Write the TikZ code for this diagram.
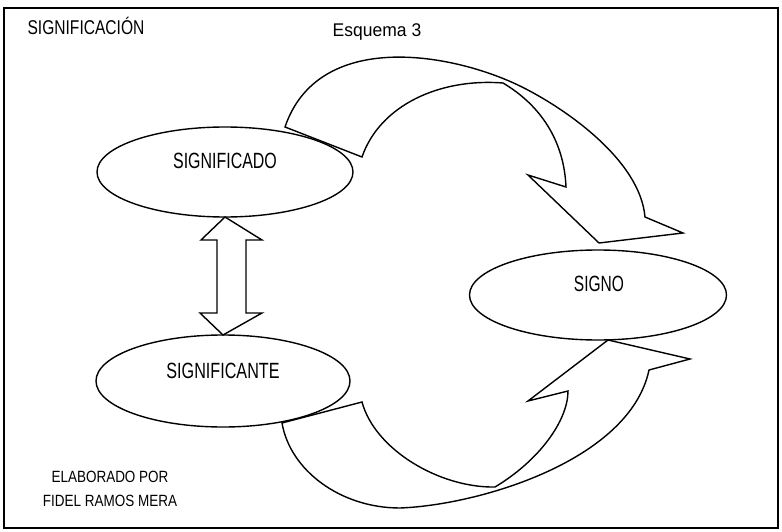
\documentclass[tikz,border=0pt]{standalone}
\usepackage{fontspec}
\setmainfont{Liberation Sans}
\usepackage{graphicx}
\usetikzlibrary{shapes.geometric}
\newcommand{\sq}[3]{\scalebox{#1}[1.05]{\fontsize{#2}{#2}\selectfont #3}}
\begin{document}
\begin{tikzpicture}[x=1pt,y=-1pt,
  shapeline/.style={draw=black,line width=1.4pt,fill=white,line join=miter},
  oval/.style={ellipse,draw=black,line width=1.4pt,fill=white,inner sep=0pt,outer sep=0pt},
  lbl/.style={anchor=base,inner sep=0pt,text=black}]
\useasboundingbox (0,0) rectangle (782,532);
\fill[white] (0,0) rectangle (782,532);
% frame
\draw[line width=2pt] (4,8) rectangle (778,528);
% titles
\node[lbl] (title) at (86,35) {\sq{0.82}{19}{SIGNIFICACIÓN}};
\node[lbl] (esq) at (377,37) {\sq{1.0}{17.5}{Esquema 3}};
% upper curved arrow (SIGNIFICADO -> SIGNO)
\draw[shapeline]
  (285,127) .. controls (318,30) and (450,52) .. (520,86)
  .. controls (565,108) and (640,160) .. (645,217)
  -- (683,233) -- (599,243) -- (528,175) -- (566,187)
  .. controls (564,140) and (540,105) .. (503,83)
  .. controls (440,78) and (380,105) .. (362,157)
  -- cycle;
% lower curved arrow (SIGNIFICANTE -> SIGNO)
\draw[shapeline]
  (282,423) .. controls (290,470) and (340,508) .. (400,508)
  .. controls (480,505) and (630,460) .. (649,370)
  -- (690,359) -- (608,340) -- (528,401) -- (568,391)
  .. controls (568,420) and (540,460) .. (495,487)
  .. controls (440,488) and (375,450) .. (362,402)
  -- cycle;
% ellipses
\node[oval,minimum width=256pt,minimum height=90pt] (sdo) at (225,172) {};
\node[oval,minimum width=254pt,minimum height=92pt] (ste) at (223,381) {};
\node[oval,minimum width=257pt,minimum height=90pt] (sig) at (598,295) {};
\node[lbl] (tsdo) at (225,168) {\sq{0.76}{21}{SIGNIFICADO}};
\node[lbl] (tste) at (223,378) {\sq{0.77}{21}{SIGNIFICANTE}};
\node[lbl] (tsig) at (599,291) {\sq{0.74}{21}{SIGNO}};
% double arrow between SIGNIFICADO and SIGNIFICANTE
\coordinate (dtop) at (sdo.south);
\coordinate (dbot) at (ste.north);
\draw[shapeline] (dtop) -- (262,240) -- (246,240) -- (246,313) -- (262,313) -- (dbot)
  -- (200,313) -- (217,313) -- (217,240) -- (201,240) -- cycle;
% author
\node[lbl] (a1) at (110,482) {\sq{0.87}{15.5}{ELABORADO POR}};
\node[lbl] (a2) at (110,506) {\sq{0.87}{15.5}{FIDEL RAMOS MERA}};
\end{tikzpicture}
\end{document}
